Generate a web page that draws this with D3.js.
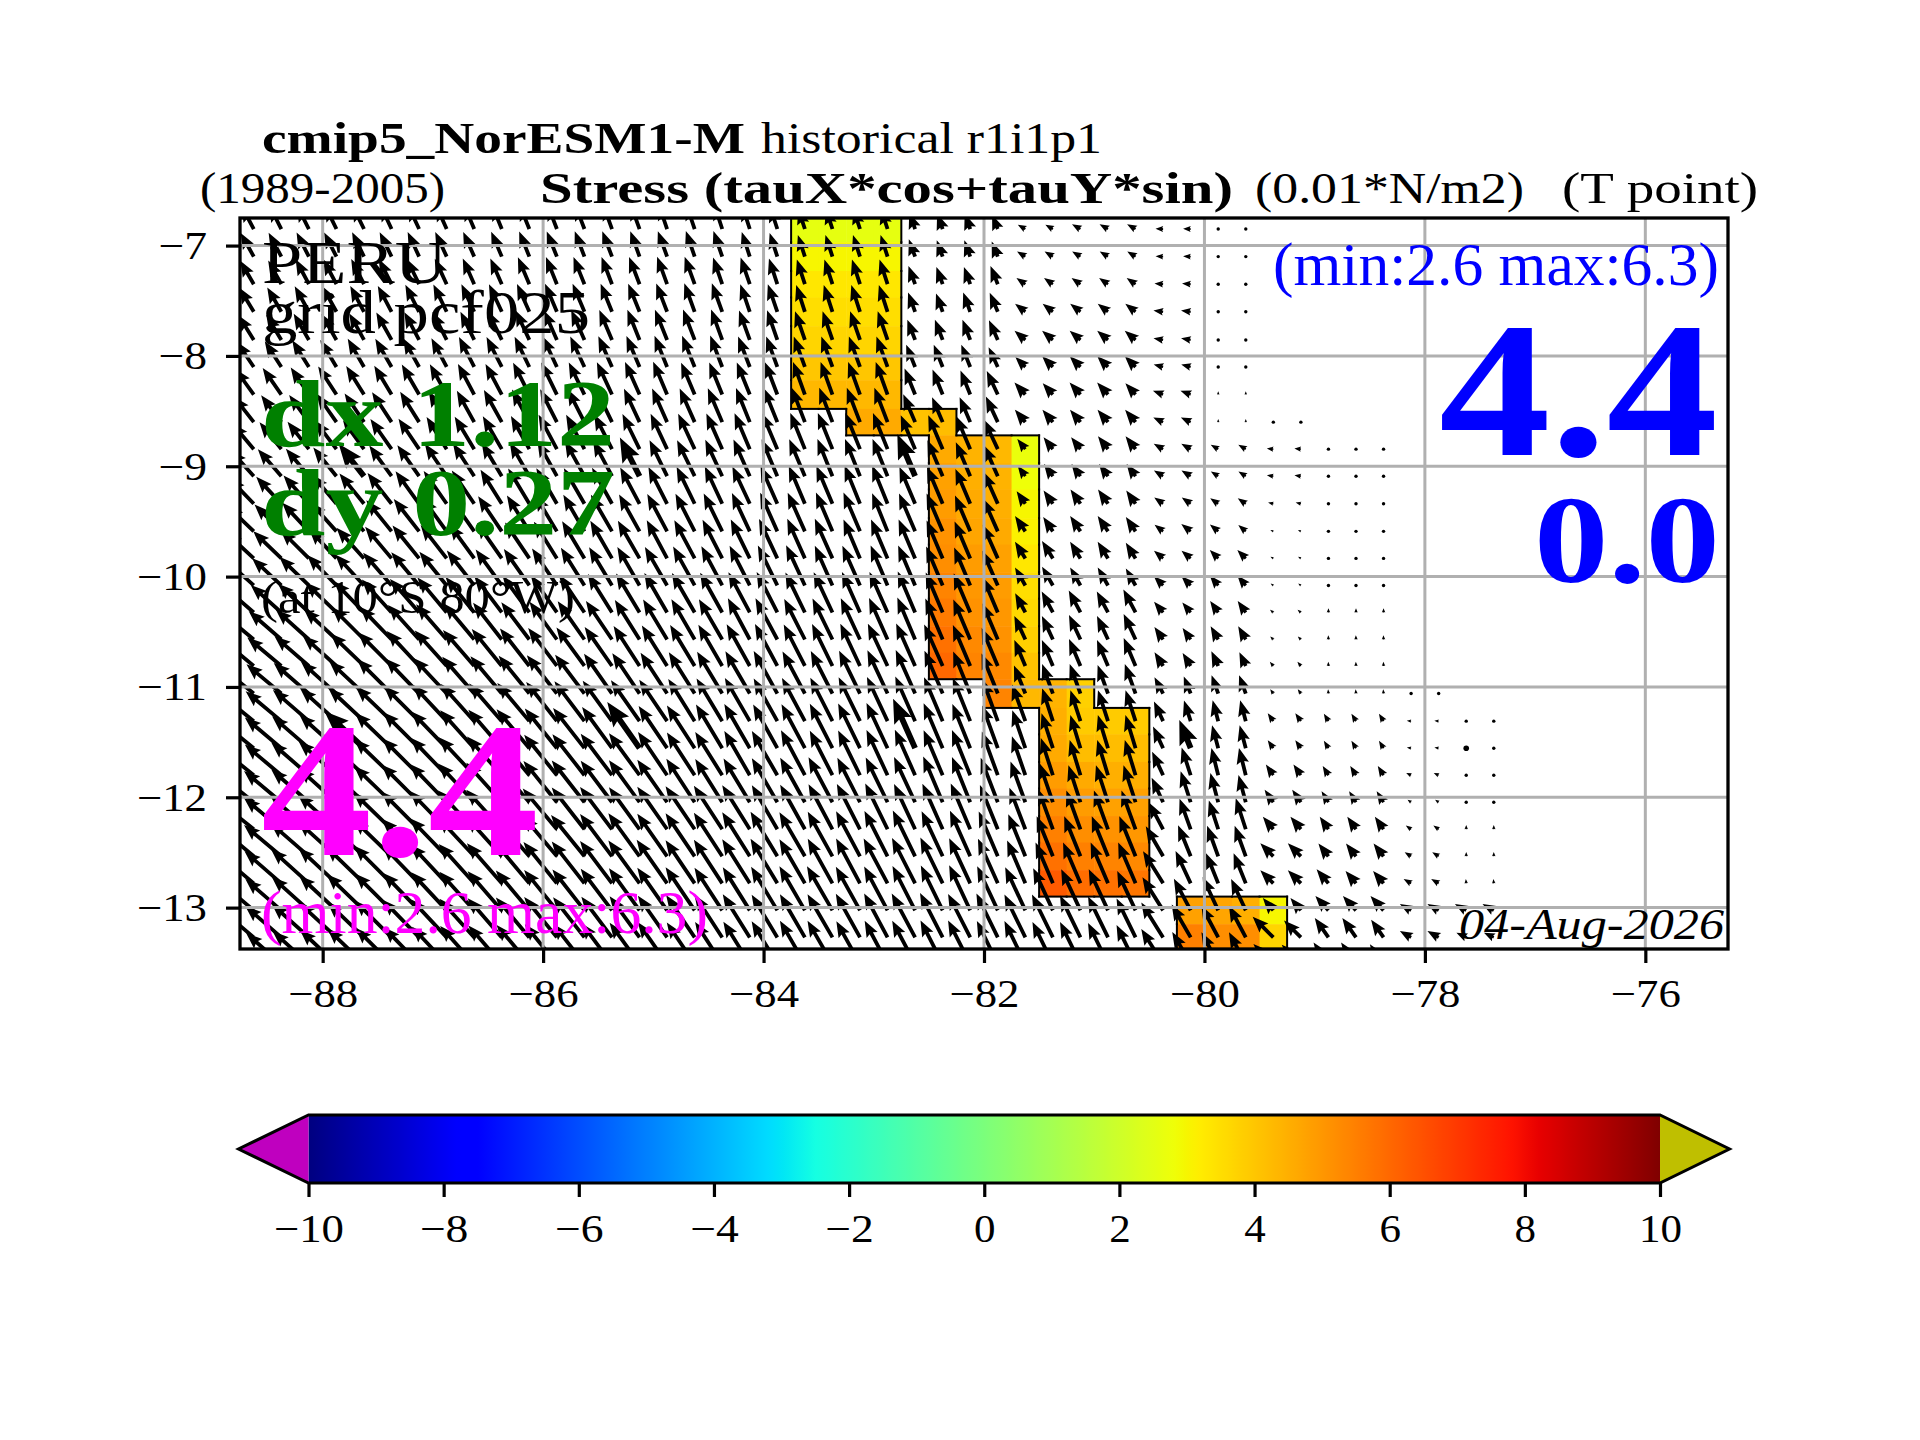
<!DOCTYPE html>
<html>
<head>
<meta charset="utf-8">
<script src="https://cdnjs.cloudflare.com/ajax/libs/d3/7.8.5/d3.min.js"></script>
<style>
body { margin: 0; background: #fff; }
text { font-family: "Liberation Serif", serif; }
</style>
</head>
<body>
<div id="chart"></div>
<script>
// longitudes of the arrow columns (T points), step 0.25
const lons = d3.range(46).map(i => -88.625 + i * 0.25);
// latitudes of the arrow rows
const lats = [-6.85,-7.10,-7.35,-7.60,-7.855,-8.10,-8.35,-8.60,-8.845,-9.09,-9.34,-9.59,-9.835,-10.08,-10.325,-10.57,-10.81,-11.06,-11.31,-11.555,-11.80,-12.045,-12.29,-12.535,-12.78,-13.025,-13.27,-13.51];
// lower edge of every row of cells
const latEdges = [-6.97,-7.23,-7.47,-7.73,-7.98,-8.22,-8.48,-8.72,-8.97,-9.21,-9.47,-9.71,-9.96,-10.20,-10.45,-10.69,-10.93,-11.19,-11.43,-11.68,-11.92,-12.17,-12.41,-12.66,-12.90,-13.15,-13.39];

// arrow length (0.1 * 0.01 N/m2), one list per row, ocean points only
const stress = [
[24,24,24,24,24,24,24,24,24,24,24,24,24,24,24,24,24,24,23,22,20,20,20,20,16,15,15,14,8,8,9,9,9,7,7,1,1],
[25,25,25,25,25,25,25,25,25,25,25,25,25,25,25,25,25,25,24,23,21,21,21,21,17,16,16,15,9,9,9,9,9,7,7,1,1],
[25,25,26,26,26,26,26,26,26,26,27,27,27,27,27,27,27,26,26,25,24,24,24,24,18,17,17,18,10,10,10,10,10,8,8,1,1],
[26,26,27,27,27,27,28,28,28,28,28,28,28,28,28,28,28,28,27,27,26,26,26,26,19,18,19,19,12,12,12,12,12,9,9,1,1],
[27,27,28,28,28,29,29,29,29,30,30,30,30,30,30,30,30,30,29,29,28,28,28,28,20,20,20,20,13,13,13,13,13,9,9,1,1],
[28,28,29,29,30,30,30,30,31,31,31,31,31,31,31,31,31,31,30,30,30,30,30,30,22,22,22,20,13,14,14,14,14,9,9,2,2],
[29,30,30,31,31,31,32,32,32,32,33,33,33,33,33,33,32,32,32,32,32,32,32,32,26,25,24,24,15,14,15,15,14,10,10,3,3],
[30,31,31,32,32,33,33,33,33,34,34,34,34,34,34,34,34,34,34,34,34,34,34,34,28,25,25,26,15,15,15,15,15,10,10,3,3,1,1],
[31,32,32,33,33,34,34,35,35,35,35,36,36,36,36,36,36,36,36,36,36,36,36,36,34,34,33,30,12,14,14,15,15,10,10,8,8,6,6,1,1,1],
[32,33,33,34,38,35,35,36,36,36,36,37,37,37,40,37,37,37,37,37,37,37,37,37,42,36,34,31,12,14,14,14,14,10,10,8,8,6,6,1,1,1],
[33,34,35,35,36,36,37,37,37,37,38,38,38,38,38,38,38,38,38,38,38,38,38,38,37,37,35,32,14,15,16,16,15,10,10,9,9,5,5,1,1,1],
[34,35,36,36,37,37,38,38,38,39,39,39,39,39,39,39,39,39,39,39,39,39,39,38,38,38,36,33,17,16,17,17,16,10,11,10,9,3,3,1,1,1],
[35,36,37,37,38,38,39,39,39,40,40,40,40,40,40,40,40,40,40,40,40,40,39,39,39,38,37,34,18,19,18,18,17,11,11,11,11,3,3,1,1,1],
[36,37,38,39,39,40,40,40,41,41,41,41,41,41,41,41,41,41,41,41,41,40,40,40,40,39,38,35,19,20,19,19,18,12,12,12,12,3,3,1,1,1],
[37,38,39,40,40,41,41,42,42,42,42,42,42,42,42,42,42,42,42,42,41,41,41,41,41,40,39,35,20,22,23,22,24,13,12,13,13,4,4,4,4,4],
[38,40,41,41,42,42,43,43,43,43,43,43,43,43,43,43,43,43,43,43,42,42,42,42,42,41,40,36,24,24,25,24,26,14,13,14,14,4,4,4,4,4],
[39,41,42,42,43,44,44,44,44,44,44,44,44,44,44,44,44,44,44,44,43,43,43,43,43,42,41,38,26,26,27,26,28,15,14,15,14,5,5,4,4,4],
[40,42,43,44,44,45,45,45,45,45,45,45,45,45,45,45,45,45,45,45,44,44,44,44,44,43,42,40,28,29,29,28,29,17,17,18,18,5,5,4,4,4,1,1],
[41,43,44,45,45,46,46,46,46,46,46,46,46,46,46,46,46,46,46,45,45,45,45,45,45,44,43,41,36,32,30,30,30,20,20,20,20,9,9,8,8,8,4,4,1,1],
[42,44,45,46,50,47,47,47,47,47,47,47,47,47,52,47,47,47,47,46,46,46,46,46,50,45,44,42,37,34,32,32,32,22,28,22,22,9,9,8,8,8,4,4,2,1],
[42,44,46,47,47,48,48,48,48,48,48,48,48,48,48,48,47,47,47,47,47,46,46,46,46,45,45,43,38,36,34,34,34,24,27,26,26,12,12,10,10,10,5,5,1,1],
[43,45,46,47,48,48,49,49,49,49,49,49,49,48,48,48,48,47,47,47,47,47,46,46,46,46,45,44,40,38,36,36,36,25,30,28,26,14,14,12,12,12,4,4,2,2],
[43,45,47,48,48,49,49,49,49,49,49,49,49,49,48,48,48,48,48,47,47,47,47,47,46,46,46,44,41,39,38,38,38,28,30,28,30,15,15,14,14,14,6,6,4,4],
[43,45,47,48,49,49,49,49,49,49,49,49,49,49,49,48,48,48,48,48,47,47,47,47,47,46,46,45,42,40,40,40,40,32,31,30,30,17,17,15,15,15,7,7,4,4],
[43,45,47,48,49,49,49,49,49,49,49,49,49,49,49,49,48,48,48,48,47,47,47,47,47,47,46,45,43,41,41,41,41,35,33,30,30,17,17,17,15,15,8,8,4,4],
[42,44,46,47,48,48,48,48,48,48,48,48,48,48,48,48,48,47,47,47,47,47,46,46,46,46,46,45,44,43,42,42,40,36,33,34,32,15,15,18,18,18,12,12,12,12],
[42,44,46,47,47,48,48,48,48,48,48,48,47,47,47,47,47,47,47,46,46,46,46,46,46,46,45,45,44,44,43,42,40,38,35,33,33,27,22,22,22,20,12,12,10,10],
[41,43,45,46,47,47,47,47,47,47,47,47,47,47,47,47,46,46,46,46,46,46,45,45,45,45,45,44,44,43,43,42,40,38,34,33,33,26,25,24,24,22,10,10,8,8]
];

// arrow direction, degrees counter-clockwise from east
const bearing = [
[118,117,117,116,116,115,115,114,113,112,112,111,111,110,110,109,109,108,108,108,108,108,108,108,110,110,110,112,150,150,150,150,150,178,178,90,90],
[119,118,117,117,116,116,115,115,114,113,112,112,111,111,110,110,109,109,108,108,108,108,108,108,110,110,110,112,148,148,148,148,148,178,178,90,90],
[120,119,118,118,117,117,116,115,114,114,113,112,112,111,111,110,110,109,109,108,108,108,108,108,110,110,110,112,145,145,145,145,145,175,175,90,90],
[121,120,119,119,118,118,117,116,115,115,114,113,113,112,112,111,110,110,109,109,108,108,108,108,110,110,110,113,142,142,142,142,142,172,172,90,90],
[122,121,120,120,119,119,118,117,116,116,115,114,114,113,112,112,111,110,110,109,109,109,109,109,111,111,111,114,140,140,140,140,140,170,170,90,90],
[124,123,122,121,120,120,119,118,117,117,116,115,115,114,113,112,112,111,111,110,110,110,110,110,112,112,112,115,135,135,135,135,135,165,165,90,90],
[126,125,124,123,122,121,120,119,118,118,117,116,116,115,114,113,113,112,112,111,110,110,110,110,112,112,112,115,132,132,132,132,132,160,160,90,90],
[128,127,126,125,124,123,122,120,119,119,118,117,117,116,115,114,114,113,112,112,111,111,111,111,113,113,113,115,130,130,130,130,130,155,155,90,90,90,90],
[130,129,128,127,126,125,124,122,121,120,119,118,118,117,116,115,115,114,113,113,112,112,112,112,113,113,113,115,128,128,128,128,128,150,150,150,150,175,175,90,90,90],
[132,131,130,129,128,126,125,124,123,121,120,119,119,118,117,116,116,115,114,113,113,112,112,112,113,113,113,114,126,126,126,126,126,148,148,148,148,172,172,90,90,90],
[134,133,132,130,129,128,126,125,124,122,121,120,120,119,118,117,116,115,115,114,113,113,112,112,113,113,113,114,125,125,125,125,125,145,145,145,145,165,165,90,90,90],
[136,135,133,132,130,129,128,126,125,124,122,121,120,120,119,118,117,116,115,114,114,113,113,112,113,113,113,114,124,124,124,124,124,142,142,140,140,155,155,90,90,90],
[137,136,135,133,132,130,129,128,126,125,124,122,121,120,120,118,118,117,116,115,114,114,113,113,113,113,113,114,122,122,122,122,122,140,140,135,135,150,150,90,90,90],
[138,137,136,134,133,131,130,129,128,126,125,124,122,121,120,120,119,118,117,116,115,114,114,113,113,113,113,114,120,120,120,120,120,135,135,130,130,145,145,90,90,90],
[139,138,137,136,134,132,131,130,129,127,126,125,124,122,121,120,120,119,118,117,116,115,114,114,113,113,113,113,118,118,118,118,118,130,130,125,125,140,140,90,90,90],
[140,139,138,137,135,134,132,131,130,128,127,126,125,124,122,121,120,120,118,118,117,116,115,114,113,113,113,113,115,115,115,115,115,125,125,120,120,135,135,92,92,92],
[140,140,139,138,136,135,133,132,131,129,128,127,126,125,123,122,121,120,119,118,117,116,115,115,114,114,113,113,113,113,113,113,113,122,122,115,115,130,130,92,92,92],
[141,140,139,138,137,135,134,133,131,130,129,128,127,125,124,123,122,121,120,119,118,117,116,115,114,113,112,112,112,110,110,110,110,118,112,110,110,125,125,95,95,95,90,90],
[141,140,139,138,137,136,135,133,132,131,130,128,127,126,125,124,122,121,120,119,118,117,116,115,114,113,112,110,110,108,108,108,108,115,108,105,105,125,125,122,122,122,175,175,90,90],
[141,140,139,138,137,136,135,134,132,131,130,129,128,126,125,124,123,121,120,119,118,117,116,115,114,113,112,110,109,108,107,107,107,115,112,105,105,125,125,122,122,122,170,170,90,90],
[141,140,139,138,137,136,135,134,133,132,130,129,128,127,126,124,123,122,120,120,118,117,116,115,114,113,112,110,109,108,107,107,107,115,108,104,104,125,125,122,122,122,155,155,90,90],
[141,140,139,138,137,136,135,134,133,132,131,129,128,127,126,125,123,122,121,120,119,118,117,116,115,113,112,111,110,109,108,108,108,115,108,105,105,125,125,122,122,122,145,145,90,90],
[141,140,139,138,137,136,135,134,133,132,131,130,128,127,126,125,124,123,122,120,119,118,117,116,115,114,113,112,111,110,110,110,110,118,110,108,108,130,130,125,125,125,145,145,90,90],
[140,140,139,138,137,136,135,134,133,132,131,130,129,127,126,125,124,123,122,121,120,119,118,117,116,115,114,113,112,112,112,112,112,120,112,110,110,135,135,128,128,128,148,148,90,90],
[140,139,138,137,136,135,134,133,132,131,130,129,128,127,126,125,124,123,122,121,120,119,118,118,117,116,115,114,113,113,113,113,113,122,115,112,112,135,135,130,130,130,150,150,95,95],
[140,139,138,137,136,135,134,133,132,131,130,129,128,127,126,125,124,123,122,121,120,120,119,118,117,116,115,115,115,115,115,115,115,122,118,115,115,130,130,132,132,132,150,150,150,150],
[140,139,138,137,136,135,134,133,132,131,130,129,128,127,126,125,124,123,122,121,120,120,119,118,118,117,117,116,116,116,116,116,116,122,120,118,118,135,135,125,125,125,150,150,155,155],
[140,139,138,137,136,135,134,133,132,131,130,129,128,127,126,125,124,123,122,121,120,120,119,118,118,117,117,116,116,116,116,116,116,122,120,118,118,135,135,125,125,125,150,150,155,155]
];

// the heavier arrows sit on every 10th column and row
const heavyCols = [4, 14, 24, 34, 44];
const heavyRows = [9, 19];

// coloured coastal cells: column index, first row, values down the column
const bandCols = [20,21,22,23,24,25,26,27,28,29,30,31,32,34,35,36,37];
const bandFirstRow = [0,0,0,0,7,7,8,8,8,17,17,18,18,25,25,25,25];
const bandValues = [
[2.6,3.0,3.3,3.5,3.7,4.0,4.3],
[2.6,3.0,3.3,3.5,3.7,4.0,4.3],
[2.6,3.0,3.3,3.5,3.7,4.0,4.3,4.6],
[2.6,3.0,3.3,3.5,3.7,4.0,4.3,4.6],
[4.1],
[4.2,4.6,4.8,4.9,5.1,5.2,5.4,5.6,5.8,6.0],
[4.4,4.5,4.6,4.7,4.9,5.0,5.1,5.3,5.4],
[4.3,4.4,4.5,4.6,4.8,4.9,5.0,5.1,5.3,5.4],
[2.7,2.8,3.0,3.1,3.3,3.5,3.6,3.8,4.1,4.3],
[4.4,4.5,4.6,4.9,5.2,5.5,5.8,6.3],
[3.8,3.9,4.2,4.6,4.9,5.2,5.5,5.9],
[3.9,4.2,4.5,4.8,5.1,5.4,5.8],
[3.9,4.2,4.5,4.8,5.0,5.3,5.7],
[4.8,5.5],
[4.7,5.2],
[4.5,5.2],
[3.0,3.7]
];

const xTicks = [-88,-86,-84,-82,-80,-78,-76];
const yTicks = [-13,-12,-11,-10,-9,-8,-7];
const barTicks = [-10,-8,-6,-4,-2,0,2,4,6,8,10];

const width = 1920, height = 1440;
const frame = { left: 240, right: 1728, top: 218, bottom: 949 };
const bar = { left: 308.5, right: 1660, top: 1115, bottom: 1183 };
const tickFont = 40;

const svg = d3.select('#chart').append('svg')
    .attr('width', width)
    .attr('height', height)
    .style('display', 'block')
    .style('background', '#fff');

const x = d3.scaleLinear().domain([-88.75, -75.25]).range([frame.left, frame.right]);
const y = d3.scaleLinear().domain([-6.75, -13.375]).range([frame.top, frame.bottom]);
const lengthScale = d3.scaleLinear().domain([0, 60]).range([0, 65]);

// jet colour map, same break points as matplotlib
const jetR = d3.scaleLinear().domain([0, 0.35, 0.66, 0.89, 1]).range([0, 0, 1, 1, 0.5]);
const jetG = d3.scaleLinear().domain([0, 0.125, 0.375, 0.64, 0.91, 1]).range([0, 0, 1, 1, 0, 0]);
const jetB = d3.scaleLinear().domain([0, 0.11, 0.34, 0.65, 1]).range([0.5, 1, 1, 0, 0]);
const valueToT = d3.scaleLinear().domain([-10, 10]).range([0, 1]);
function jet(v) {
    const t = valueToT(v);
    return d3.rgb(jetR(t) * 255, jetG(t) * 255, jetB(t) * 255).formatHex();
}

svg.append('clipPath').attr('id', 'frame-clip')
    .append('rect')
    .attr('x', frame.left)
    .attr('y', frame.top)
    .attr('width', frame.right - frame.left)
    .attr('height', frame.bottom - frame.top);

const plot = svg.append('g').attr('clip-path', 'url(#frame-clip)');

// cells
const cells = [];
bandCols.forEach((col, c) => {
    bandValues[c].forEach((v, k) => {
        cells.push({ col, row: bandFirstRow[c] + k, value: v });
    });
});
const cellLeft = d => x(lons[d.col] - 0.125);
const cellRight = d => x(lons[d.col] + 0.125);
const cellTop = d => y(d.row === 0 ? -6.75 : latEdges[d.row - 1]);
const cellBottom = d => y(latEdges[d.row]);

plot.selectAll('.cell')
    .data(cells)
    .enter()
    .append('rect')
    .attr('class', 'cell')
    .attr('x', cellLeft)
    .attr('y', cellTop)
    .attr('width', d => cellRight(d) - cellLeft(d) + 0.5)
    .attr('height', d => cellBottom(d) - cellTop(d) + 0.5)
    .attr('fill', d => jet(d.value));

// black outline round the band
const hasCell = new Set(cells.map(d => d.col + '_' + d.row));
const outline = [];
cells.forEach(d => {
    const l = cellLeft(d), r = cellRight(d), t = cellTop(d), b = cellBottom(d);
    if (!hasCell.has((d.col - 1) + '_' + d.row)) outline.push([l, t, l, b]);
    if (!hasCell.has((d.col + 1) + '_' + d.row)) outline.push([r, t, r, b]);
    if (!hasCell.has(d.col + '_' + (d.row - 1))) outline.push([l, t, r, t]);
    if (!hasCell.has(d.col + '_' + (d.row + 1))) outline.push([l, b, r, b]);
});
plot.selectAll('.edge')
    .data(outline)
    .enter()
    .append('line')
    .attr('class', 'edge')
    .attr('x1', d => d[0])
    .attr('y1', d => d[1])
    .attr('x2', d => d[2])
    .attr('y2', d => d[3])
    .attr('stroke', '#000')
    .attr('stroke-width', 2)
    .attr('stroke-linecap', 'square');

// quiver arrows: the whole arrow shrinks when shorter than its head
function arrowPath(len, w) {
    const k = Math.min(1, len / (4.2 * w));
    const sw = w / 2 * k, hw = 1.65 * w * k;
    const hl = 4.2 * w * k, ha = 3.7 * w * k;
    return 'M0,' + (-sw) + 'L' + (len - ha) + ',' + (-sw) + 'L' + (len - hl) + ',' + (-hw) +
        'L' + len + ',0L' + (len - hl) + ',' + hw + 'L' + (len - ha) + ',' + sw + 'L0,' + sw + 'Z';
}

const arrows = [];
stress.forEach((list, r) => {
    list.forEach((s, c) => {
        arrows.push({ r, c, s, a: bearing[r][c] });
    });
});
const isHeavy = d => heavyCols.includes(d.c) && heavyRows.includes(d.r);

plot.selectAll('.arrow')
    .data(arrows.filter(d => d.s > 2))
    .enter()
    .append('path')
    .attr('class', 'arrow')
    .attr('d', d => arrowPath(lengthScale(d.s), isHeavy(d) ? 5.8 : 3.8))
    .attr('transform', d => `translate(${x(lons[d.c])},${y(lats[d.r])}) rotate(${-d.a})`)
    .attr('fill', '#000');

plot.selectAll('.dot')
    .data(arrows.filter(d => d.s <= 2))
    .enter()
    .append('circle')
    .attr('class', 'dot')
    .attr('cx', d => x(lons[d.c]))
    .attr('cy', d => y(lats[d.r]))
    .attr('r', d => isHeavy(d) ? 2.8 : 1.7)
    .attr('fill', '#000');

// grid on top of the arrows
const grid = svg.append('g');
grid.selectAll('.gx')
    .data(xTicks)
    .enter()
    .append('line')
    .attr('x1', d => x(d))
    .attr('x2', d => x(d))
    .attr('y1', frame.top)
    .attr('y2', frame.bottom)
    .attr('stroke', '#b0b0b0')
    .attr('stroke-width', 3);
grid.selectAll('.gy')
    .data(yTicks)
    .enter()
    .append('line')
    .attr('x1', frame.left)
    .attr('x2', frame.right)
    .attr('y1', d => y(d))
    .attr('y2', d => y(d))
    .attr('stroke', '#b0b0b0')
    .attr('stroke-width', 3);

svg.append('rect')
    .attr('x', frame.left)
    .attr('y', frame.top)
    .attr('width', frame.right - frame.left)
    .attr('height', frame.bottom - frame.top)
    .attr('fill', 'none')
    .attr('stroke', '#000')
    .attr('stroke-width', 3.3);

// axes
const minus = d => String(d).replace('-', '\u2212');

function styleAxis(a) {
    a.select('.domain').remove();
    a.selectAll('line').attr('stroke', '#000').attr('stroke-width', 3.2);
    a.selectAll('text')
        .style('font-family', '"Liberation Serif", serif')
        .style('font-size', tickFont + 'px')
        .attr('fill', '#000')
        .attr('lengthAdjust', 'spacingAndGlyphs')
        .attr('textLength', d => String(Math.abs(d)).length * 21.5 + (d < 0 ? 27 : 0));
}

const xAxis = svg.append('g')
    .attr('transform', `translate(0,${frame.bottom})`)
    .call(d3.axisBottom(x).tickValues(xTicks).tickFormat(minus).tickSize(14).tickPadding(15.5));
const yAxis = svg.append('g')
    .attr('transform', `translate(${frame.left},0)`)
    .call(d3.axisLeft(y).tickValues(yTicks).tickFormat(minus).tickSize(14).tickPadding(19));
styleAxis(xAxis);
styleAxis(yAxis);

// colour bar
const barX = d3.scaleLinear().domain([-10, 10]).range([bar.left, bar.right]);
const barSteps = d3.range(0, 257).map(i => -10 + i * 20 / 256);

const barGradient = svg.append('linearGradient')
    .attr('id', 'bar-gradient')
    .attr('x1', '0%')
    .attr('x2', '100%');
barGradient.selectAll('stop')
    .data(barSteps)
    .enter()
    .append('stop')
    .attr('offset', d => (valueToT(d) * 100) + '%')
    .attr('stop-color', d => jet(d));

svg.append('rect')
    .attr('x', barX(-10))
    .attr('y', bar.top)
    .attr('width', barX(10) - barX(-10))
    .attr('height', bar.bottom - bar.top)
    .attr('fill', 'url(#bar-gradient)');

const barMid = (bar.top + bar.bottom) / 2;
svg.append('polygon')
    .attr('points', [[bar.left, bar.top], [238.5, barMid], [bar.left, bar.bottom]].join(' '))
    .attr('fill', '#bf00bf');
svg.append('polygon')
    .attr('points', [[bar.right, bar.top], [1729.5, barMid], [bar.right, bar.bottom]].join(' '))
    .attr('fill', '#bfbf00');
svg.append('polygon')
    .attr('points', [[bar.left, bar.top], [bar.right, bar.top], [1729.5, barMid], [bar.right, bar.bottom],
        [bar.left, bar.bottom], [238.5, barMid]].join(' '))
    .attr('fill', 'none')
    .attr('stroke', '#000')
    .attr('stroke-width', 3);

const barAxis = svg.append('g')
    .attr('transform', `translate(0,${bar.bottom})`)
    .call(d3.axisBottom(barX).tickValues(barTicks).tickFormat(minus).tickSize(14).tickPadding(16.5));
styleAxis(barAxis);

// all labels: x0 to x1 is the width the text covers in the picture
function label(txt, x0, x1, base, size, opts) {
    const o = opts || {};
    svg.append('text')
        .attr('x', x0)
        .attr('y', base)
        .attr('textLength', x1 - x0)
        .attr('lengthAdjust', 'spacingAndGlyphs')
        .attr('font-size', size)
        .attr('font-weight', o.bold ? 'bold' : 'normal')
        .attr('font-style', o.italic ? 'italic' : 'normal')
        .attr('fill', o.color || '#000')
        .text(txt);
}

label('cmip5_NorESM1-M', 262, 745, 153, 44, { bold: true });
label('historical r1i1p1', 761, 1102, 153, 44);
label('(1989-2005)', 200, 445, 203, 44);
label('Stress (tauX*cos+tauY*sin)', 540, 1233, 203, 44, { bold: true });
label('(0.01*N/m2)', 1255, 1524, 203, 44);
label('(T point)', 1562, 1758, 203, 44);

label('PERU', 262, 447, 283, 62);
label('grid pcf025', 262, 590, 333, 62);
label('dx 1.12', 261, 615, 446, 96, { bold: true, color: '#008000' });
label('dy 0.27', 261, 615, 535, 96, { bold: true, color: '#008000' });
label('(at 10\u00b0S 80\u00b0W)', 261, 575, 613, 46);
label('4.4', 261, 539, 855, 192, { bold: true, color: '#ff00ff' });
label('(min:2.6 max:6.3)', 261, 708, 933, 62, { color: '#ff00ff' });
label('(min:2.6 max:6.3)', 1273, 1719, 285, 62, { color: '#0000ff' });
label('4.4', 1439, 1718, 455, 192, { bold: true, color: '#0000ff' });
label('0.0', 1534, 1720, 582, 124, { bold: true, color: '#0000ff' });
label('04-Aug-2026', 1459, 1724, 939, 44, { italic: true });
</script>
</body>
</html>
